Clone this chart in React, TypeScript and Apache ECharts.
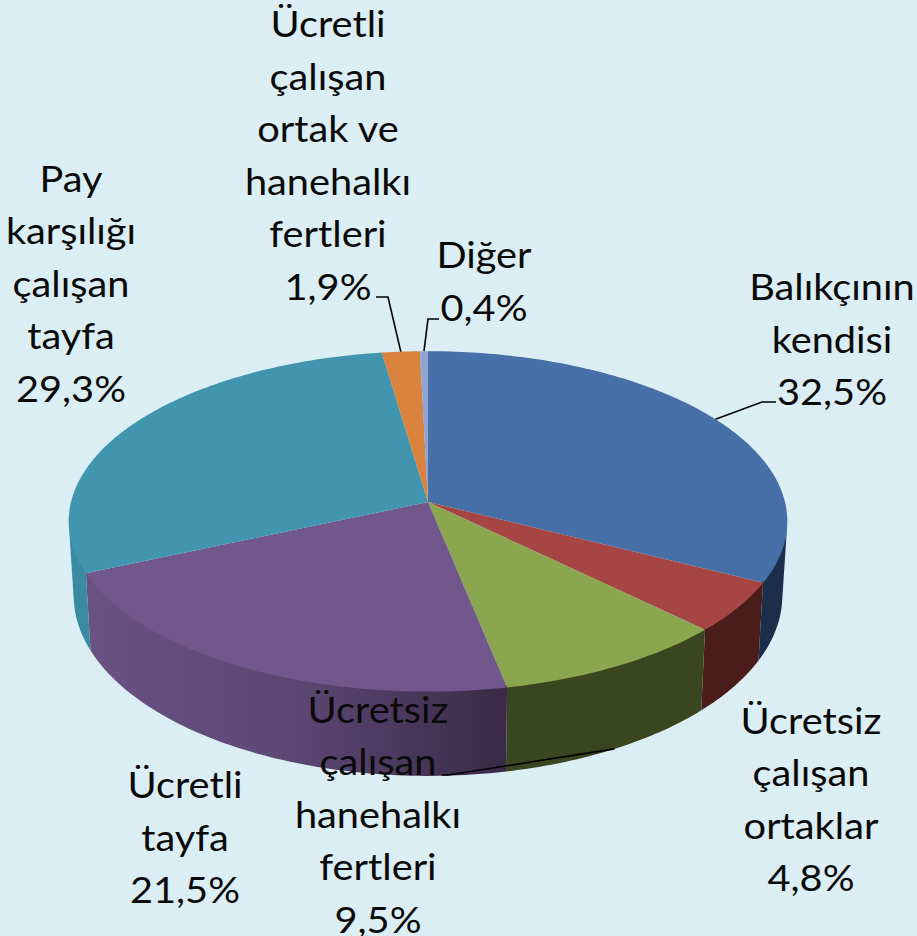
import React, { useEffect, useRef } from "react";
import * as echarts from "echarts";

const categories = [
  "Balıkçının\nkendisi",
  "Ücretsiz\nçalışan\nortaklar",
  "Ücretsiz\nçalışan\nhanehalkı\nfertleri",
  "Ücretli\ntayfa",
  "Pay\nkarşılığı\nçalışan\ntayfa",
  "Ücretli\nçalışan\nortak ve\nhanehalkı\nfertleri",
  "Diğer",
];
const values = [32.5, 4.8, 9.5, 21.5, 29.3, 1.9, 0.4];

const topColors = ["#4670a7", "#a64644", "#8aa64e", "#72578c", "#4195ae", "#d9833f", "#8fa4d2"];
const wallColors: (string | string[])[] = [
  "#1b2f4b",
  "#4a1c1a",
  "#3a461f",
  ["#6a5285", "#5c4773", "#3a2a47"],
  "#3a8aa2",
  "#a8622c",
  "#6b7a9e",
];

// [centre x, centre y] of every label block
const labelCentres = [
  [832, 338],
  [811, 798],
  [378, 813],
  [185, 836],
  [71, 282],
  [328, 154],
  [484, 280],
];
// leader-line bends: label end first, rim anchor is added from the data
const leaderBends: ([number, number][] | null)[] = [
  [[776, 402], [762, 402]],
  null,
  [[442, 775], [448, 775]],
  null,
  null,
  [[376, 297], [388, 297]],
  [[439, 319], [428, 319]],
];
const leaderOnBase = [false, false, true, false, false, false, false];

const W = 917;
const H = 936;
const CX = 428;
const TOP = { y0: 502, a: 357, b: 168 };
const WALL_TOP = { y0: 500, a: 357, b: 168 };
const BASE = { y0: 575, a: 352, b: 178 };
const K = 0.114;
const FONT = "Lato";
const FONT_SIZE = 37.5;
const TEXT_STRETCH = 1.06;
const LINE_H = 52.5;

const total = values.reduce((s, v) => s + v, 0);
const cum: number[] = [0];
values.forEach((v) => cum.push(cum[cum.length - 1] + v));
const ang = (c: number) => (c / total) * Math.PI * 2;

function rim(t: number, p: { y0: number; a: number; b: number }): [number, number] {
  const u = Math.sin(t);
  const v = -Math.cos(t);
  const w = 1 - K * v;
  return [CX + (p.a * u) / w, p.y0 + (p.b * v) / w];
}

function arcPts(a0: number, a1: number, p: { y0: number; a: number; b: number }) {
  const n = Math.max(2, Math.ceil(((a1 - a0) * 180) / Math.PI));
  const pts: [number, number][] = [];
  for (let i = 0; i <= n; i++) pts.push(rim(a0 + ((a1 - a0) * i) / n, p));
  return pts;
}

const VIS0 = (98 * Math.PI) / 180;
const VIS1 = (262 * Math.PI) / 180;

function wallFill(c: string | string[]) {
  if (typeof c === "string") return c;
  return new echarts.graphic.LinearGradient(
    0,
    0,
    1,
    0,
    c.map((color, i) => ({ offset: i / (c.length - 1), color }))
  );
}

export default function App() {
  const ref = useRef<HTMLDivElement>(null);
  useEffect(() => {
    document.body.style.margin = "0";
    const chart = echarts.init(ref.current!, undefined, { renderer: "svg" });
    const labelText = categories.map(
      (c, i) => c + "\n" + values[i].toFixed(1).replace(".", ",") + "%"
    );
    const labels = labelText.map((t, i) => ({
      type: "text",
      z: 20,
      x: labelCentres[i][0],
      y: labelCentres[i][1],
      scaleX: TEXT_STRETCH,
      style: {
        text: t,
        align: "center",
        verticalAlign: "middle",
        fontFamily: FONT,
        fontSize: FONT_SIZE,
        lineHeight: LINE_H,
        fill: "#0a0a0a",
      },
    }));
    const leaders = leaderBends
      .map((b, i) => {
        if (!b) return null;
        const mid = ang((cum[i] + cum[i + 1]) / 2);
        const end = rim(mid, leaderOnBase[i] ? BASE : TOP);
        return {
          type: "polyline",
          z: 19,
          shape: { points: [...b, end] },
          style: { stroke: "#000", lineWidth: 1.6, fill: "none" },
        };
      })
      .filter(Boolean);

    chart.setOption({
      animation: false,
      backgroundColor: "#dbeef4",
      series: [
        {
          type: "custom",
          coordinateSystem: "none",
          clip: false,
          silent: true,
          data: values.map((v, i) => [v, i]),
          renderItem: (_p: any, api: any) => {
            const i = api.value(1);
            const a0 = ang(cum[i]);
            const a1 = ang(cum[i + 1]);
            const children: any[] = [];
            const w0 = Math.max(a0, VIS0);
            const w1 = Math.min(a1, VIS1);
            if (w1 > w0) {
              const t = arcPts(w0, w1, WALL_TOP);
              const b = arcPts(w0, w1, BASE).reverse();
              children.push({
                type: "polygon",
                shape: { points: [...t, ...b] },
                style: { fill: wallFill(wallColors[i]), stroke: "none" },
              });
            }
            const apex: [number, number] = [CX, TOP.y0];
            children.push({
              type: "polygon",
              shape: { points: [apex, ...arcPts(a0, a1, TOP)] },
              style: { fill: topColors[i], stroke: "none" },
            });
            return { type: "group", children };
          },
        },
      ],
      graphic: { elements: [...leaders, ...labels] },
    });
    return () => chart.dispose();
  }, []);
  return <div ref={ref} style={{ width: W, height: H }} />;
}
